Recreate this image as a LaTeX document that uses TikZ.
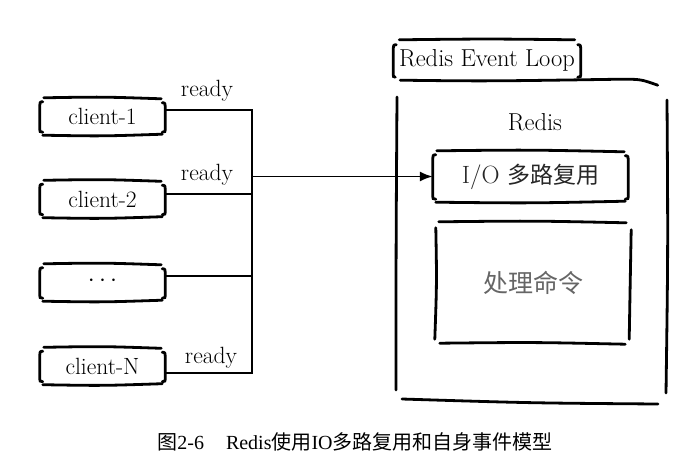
\documentclass[tikz,border=0pt]{standalone}
\usepackage{fontspec}
\newfontfamily\cjk{Noto Sans CJK SC}
\newfontfamily\capserif{Liberation Serif}
\usetikzlibrary{calc,arrows.meta}
\newcommand\skbox[1]{%
 \draw[stroke] ($(#1.north west)+(4,0)$) .. controls ($(#1.north)+(0,-1)$) .. ($(#1.north east)+(-4,1)$);
 \draw[stroke] ($(#1.south west)+(3,0)$) .. controls ($(#1.south)+(0,1)$) .. ($(#1.south east)+(-3,-1)$);
 \draw[stroke] ($(#1.north west)+(3,4)$) .. controls ($(#1.north west)+(0,4)$) .. ($(#1.north west)+(0,11)$) -- ($(#1.south west)+(0,-8)$) .. controls ($(#1.south west)+(0,-3)$) .. ($(#1.south west)+(3,-3)$);
 \draw[stroke] ($(#1.north east)+(-3,5)$) .. controls ($(#1.north east)+(0,5)$) .. ($(#1.north east)+(0,12)$) -- ($(#1.south east)+(0,-8)$) .. controls ($(#1.south east)+(0,-3)$) .. ($(#1.south east)+(-3,-3)$);
}
\begin{document}
\begin{tikzpicture}[x=1pt,y=-1pt,
  stroke/.style={line width=2.8pt,line cap=round},
  wire/.style={line width=1.9pt},
  arrow/.style={wire,-{Latex[length=13pt,width=10pt]}},
  hand/.style={font=\fontsize{23.5}{26}\selectfont,inner sep=0pt},
  cbox/.style={hand,minimum width=125pt,minimum height=37pt},
  lbl/.style={hand,anchor=base}]
\useasboundingbox (0,0) rectangle (692,469);
\fill[white] (0,0) rectangle (692,469);

% clients
\node[cbox] (c1) at (102.5,116.5) {client-1};
\node[cbox] (c2) at (102.5,199) {client-2};
\node[cbox] (c3) at (102.5,282.5) {\raisebox{3pt}{$\cdots$}};
\node[cbox] (cN) at (102.5,366) {client-N};
\skbox{c1}\skbox{c2}\skbox{c3}\skbox{cN}

% bus
\coordinate (bt) at (252,110);
\coordinate (bb) at (252,373);
\coordinate (p1) at ($(c1.east)+(0,-6.5)$);
\coordinate (p2) at ($(c2.east)+(0,-5)$);
\coordinate (p3) at ($(c3.east)+(0,-6.5)$);
\coordinate (pN) at ($(cN.east)+(0,7)$);
\draw[wire] (p1) -- (p1 -| bt) -- (bb) -- (pN);
\draw[wire] (p2) -- (p2 -| bt);
\draw[wire] (p3) -- (p3 -| bt);
\node[lbl] (r1) at (207,96) {ready};
\node[lbl] (r2) at (207,180) {ready};
\node[lbl] (rN) at (211,363) {ready};

% event loop
\node[hand,font=\fontsize{24.5}{26}\selectfont,minimum width=187pt,minimum height=40pt] (el) at (487,60) {Redis Event Loop};
\draw[stroke] ($(el.north west)+(6,0)$) .. controls ($(el.north)+(0,-1)$) .. ($(el.north east)+(-6,0)$);
\draw[stroke] ($(el.north west)+(3,5)$) .. controls ($(el.north west)+(0,5)$) .. ($(el.north west)+(0,12)$) -- ($(el.south west)+(0,-8)$) .. controls ($(el.south west)+(0,-3)$) .. ($(el.south west)+(2,-3)$);
\draw[stroke] ($(el.north east)+(-3,5)$) .. controls ($(el.north east)+(0,5)$) .. ($(el.north east)+(0,12)$) -- ($(el.south east)+(0,-8)$) .. controls ($(el.south east)+(0,-3)$) .. ($(el.south east)+(-3,-3)$);
\draw[stroke] ($(el.south west)+(7,0)$) .. controls ($(el.south)+(0,1)$) .. ($(el.south east)+(40,-1)$) .. controls ($(el.south east)+(60,-1)$) .. ($(el.south east)+(77,5)$);

% outer Redis box
\node[hand,font=\fontsize{24.5}{26}\selectfont] (redis) at (535,122) {Redis};
\draw[stroke] (397,97) .. controls (396,250) .. (396,390);
\draw[stroke] (667,100) .. controls (668,250) .. (666,393);
\draw[stroke] (402,399) .. controls (530,403) .. (658,404);

% I/O box
\node[hand,font=\fontsize{25}{26}\selectfont,minimum width=195pt,minimum height=51pt,text=black!85] (io) at (530.5,176.5) {I/O\hspace{0.3em}{\cjk\fontsize{23}{26}\selectfont 多路复用}};
\skbox{io}
\draw[arrow] (bt |- io.west) -- (io.west);

% process box
\node[hand,minimum width=197pt,minimum height=121pt,text=black!60] (proc) at (533.5,282.5) {\cjk\fontsize{25}{26}\selectfont 处理命令};
\draw[stroke] ($(proc.north west)+(4,0)$) .. controls ($(proc.north)+(0,-1)$) .. ($(proc.north east)+(-6,1)$);
\draw[stroke] ($(proc.south west)+(5,0)$) .. controls ($(proc.south)+(0,-1)$) .. ($(proc.south east)+(-7,1)$);
\draw[stroke] ($(proc.north west)+(1,6)$) .. controls ($(proc.west)+(2,0)$) .. ($(proc.south west)+(0,-4)$);
\draw[stroke] ($(proc.north east)+(-1,8)$) .. controls ($(proc.east)+(-2,0)$) .. ($(proc.south east)+(-3,-4)$);

% caption
\node[inner sep=0pt,font=\fontsize{20}{22}\selectfont] (cap) at (355,442) {{\cjk 图}{\capserif 2-6\hspace{1.1em}Redis}{\cjk 使用}{\capserif IO}{\cjk 多路复用和自身事件模型}};
\end{tikzpicture}
\end{document}
